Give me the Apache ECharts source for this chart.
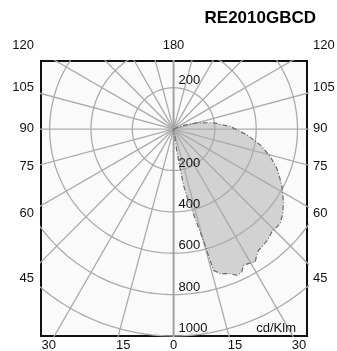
<!DOCTYPE html>
<html><head><meta charset="utf-8">
<script src="https://cdn.jsdelivr.net/npm/echarts@6/dist/echarts.min.js"></script>
<style>html,body{margin:0;padding:0;background:#fff}#c{width:337px;height:351px}</style>
</head><body><div id="c"></div>
<script>
// ---- data ----
const chartTitle = 'RE2010GBCD';
const unitLabel = 'cd/Klm';
const ringValues = [200, 400, 600, 800, 1000];
const spokeAngles = [0,15,30,45,60,75,90,105,120,135,150,165,180,195,210,225,240,255,270,285,300,315,330,345];
const sideTickLabels = ['120', '105', '90', '75', '60', '45'];
const bottomTickLabels = ['30', '15', '0', '15', '30'];
const topTickLabel = '180';
// outline of the luminous intensity curve (gamma angle from nadir, cd/klm)
const outlineAngles = [115, 110.7, 105.2, 99, 92.7, 85.5, 79.7, 74.2, 69.3, 62.8, 56.6, 52.3, 48.5, 43.7, 40.9, 37.7, 35, 33.4, 31.6, 29.1, 27.2, 25.5, 23.4, 21.4, 17.9, 15.8, 15.6, 15.3, 15.0, 14.2, 13.2, 13.0, 11.6, 10.0, 9.5, 8.2, 9.5, 0];
const outlineIntensity = [0, 51, 116, 195, 274, 356, 426, 486, 534, 589, 637, 668, 689, 688, 701, 710, 716, 731, 754, 744, 740, 766, 770, 751, 734, 709, 659, 608, 557, 488, 419, 369, 357, 274, 191, 109, 44, 0];

// ---- layout ----
const sideLabelY = [45, 87, 128, 166, 213, 278];
const bottomLabelX = [48.7, 123.3, 173.5, 235, 299];
const FONT = '"Liberation Sans", Arial, Helvetica, sans-serif';

const rad = d => d * Math.PI / 180;
const toXY = (ang, r) => [r * Math.sin(rad(ang)), -r * Math.cos(rad(ang))];

const series = [];
// intensity polygon
const polyPts = outlineAngles.map((a, i) => toXY(a, outlineIntensity[i]));
series.push({
  type: 'custom', z: 1, silent: true,
  data: [0],
  renderItem: (params, api) => ({
    type: 'polygon',
    shape: { points: polyPts.map(p => api.coord(p)) },
    style: { fill: '#d2d2d2', stroke: null }
  })
});
// rings
[...ringValues, 1200].forEach(v => {
  const pts = [];
  for (let a = 0; a <= 360; a += 2) pts.push(toXY(a, v));
  series.push({ type: 'line', z: 3, silent: true, symbol: 'none', data: pts,
    lineStyle: { color: '#ababab', width: 1.3 } });
});
// spokes
spokeAngles.forEach(a => {
  const vert = (a === 0 || a === 180);
  series.push({ type: 'line', z: vert ? 4 : 3, silent: true, symbol: 'none',
    data: [[0, 0], toXY(a, 1600)],
    lineStyle: { color: vert ? '#a2a2a2' : '#ababab', width: vert ? 2 : 1.3 } });
});
// outline
series.push({
  type: 'custom', z: 5, silent: true,
  data: [0],
  renderItem: (params, api) => ({
    type: 'polygon',
    shape: { points: polyPts.map(p => api.coord(p)) },
    style: { fill: null, stroke: '#6a6a6a', lineWidth: 1.2, lineDash: [5, 2, 1, 2] }
  })
});

const chart = echarts.init(document.getElementById('c'));
chart.setOption({
  animation: false,
  backgroundColor: '#fff',
  grid: { left: 41, right: 30, top: 61, bottom: 15, show: true,
    backgroundColor: '#fafafa', borderColor: '#111', borderWidth: 2, z: 0 },
  xAxis: { type: 'value', min: -642, max: 646, show: false },
  yAxis: { type: 'value', min: -1000, max: 329, show: false },
  series: series
});

// text labels
const txt = (text, x, y, align, vAlign, extra) => Object.assign({
  type: 'text', x: x, y: y, z: 100, silent: true,
  style: Object.assign({ text: text, fill: '#111', font: '13px ' + FONT, textAlign: align, textVerticalAlign: vAlign }, extra || {})
});
const g = [];
g.push(txt(chartTitle, 316, 18, 'right', 'middle', { font: 'bold 17px ' + FONT, fill: '#000' }));
g.push(txt(topTickLabel, 173.5, 45, 'center', 'middle'));
sideTickLabels.forEach((t, i) => {
  g.push(txt(t, 34, sideLabelY[i], 'right', 'middle'));
  g.push(txt(t, 313, sideLabelY[i], 'left', 'middle'));
});
bottomTickLabels.forEach((t, i) => g.push(txt(t, bottomLabelX[i], 345, 'center', 'middle')));
// ring labels placed from the axes
ringValues.forEach(v => {
  const p = chart.convertToPixel({ gridIndex: 0 }, [0, -v]);
  g.push(txt(String(v), p[0] + 5, p[1] - 1, 'left', 'bottom'));
});
{
  const p = chart.convertToPixel({ gridIndex: 0 }, [0, ringValues[0]]);
  g.push(txt(String(ringValues[0]), p[0] + 5, p[1] - 1, 'left', 'bottom'));
}
g.push(txt(unitLabel, 296, 328, 'right', 'middle'));
chart.setOption({ graphic: g });
</script></body></html>
